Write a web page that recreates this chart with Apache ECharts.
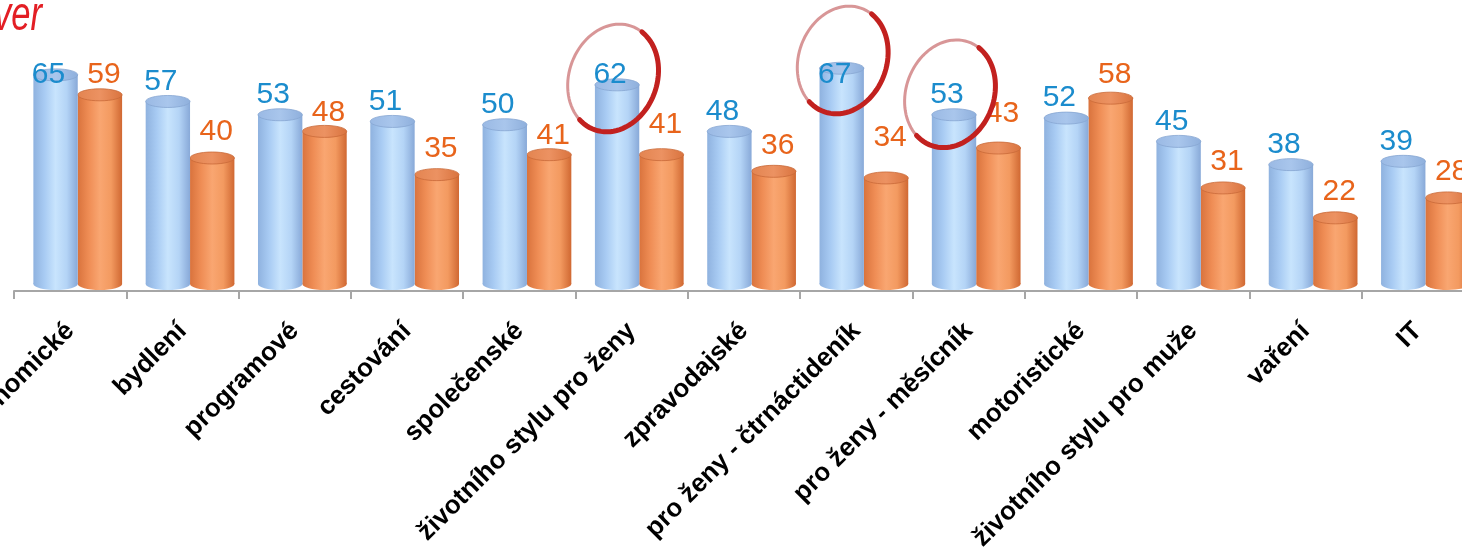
<!DOCTYPE html>
<html>
<head>
<meta charset="utf-8">
<script src="https://cdn.jsdelivr.net/npm/echarts@6/dist/echarts.min.js"></script>
<style>
  html, body { margin: 0; padding: 0; background: #fff; }
  #chart { width: 1462px; height: 553px; }
</style>
</head>
<body>
<div id="chart"></div>
<script>
const categories = [
  'ekonomické', 'bydlení', 'programové', 'cestování', 'společenské',
  'životního stylu pro ženy', 'zpravodajské', 'pro ženy - čtrnáctideník',
  'pro ženy - měsícník', 'motoristické', 'životního stylu pro muže', 'vaření', 'IT'
];
const blueValues = [65, 57, 53, 51, 50, 62, 48, 67, 53, 52, 45, 38, 39];
const orangeValues = [59, 40, 48, 35, 41, 41, 36, 34, 43, 58, 31, 22, 28];
const circled = ['životního stylu pro ženy', 'pro ženy - čtrnáctideník', 'pro ženy - měsícník'];

// hand-drawn rings, offsets relative to the value label
const ringShapes = {
  'životního stylu pro ženy': { dx: 3, dy: 3 },
  'pro ženy - čtrnáctideník': { dx: 8, dy: -15 },
  'pro ženy - měsícník': { dx: 3, dy: -1 }
};
// labels that were dragged a bit in the original (px, positive = higher)
const orangeLabelNudge = {
  'programové': -7, 'společenské': -7, 'životního stylu pro ženy': 4,
  'pro ženy - čtrnáctideník': 14, 'pro ženy - měsícník': 8
};

const chart = echarts.init(document.getElementById('chart'), null, { renderer: 'canvas' });

function gradient(stops) {
  return new echarts.graphic.LinearGradient(0, 0, 1, 0,
    stops.map((c, i) => ({ offset: i / (stops.length - 1), color: c })));
}

function ringPoints(cx, cy, rx, ry, rot, t0, t1) {
  const pts = [];
  const c = Math.cos(rot), s = Math.sin(rot);
  for (let t = t0; t <= t1; t += 4) {
    const a = t * Math.PI / 180;
    const x = rx * Math.cos(a), y = ry * Math.sin(a);
    pts.push([cx + x * c - y * s, cy + x * s + y * c]);
  }
  return pts;
}

function cylinder(opts) {
  return function (params, api) {
    const band = api.size([1, 0])[0];
    const p = api.coord([api.value(0), api.value(1)]);
    const base = api.coord([api.value(0), 0]);
    const w = band * 0.395;
    const cx = p[0] + band * opts.offset;
    const ry = 6;
    const topY = p[1];
    const botY = base[1] - ry - 1;
    const bodyFill = gradient(opts.body);
    const name = categories[api.value(0)];
    const children = [
      { type: 'rect', shape: { x: cx - w / 2, y: topY, width: w, height: botY - topY }, style: { fill: bodyFill } },
      { type: 'ellipse', shape: { cx: cx, cy: botY, rx: w / 2, ry: ry }, style: { fill: bodyFill } },
      { type: 'ellipse', shape: { cx: cx, cy: topY, rx: w / 2, ry: ry },
        style: { fill: gradient(opts.top), stroke: opts.rim, lineWidth: 0.8 } }
    ];
    const nudge = (opts.nudge && opts.nudge[name]) || 0;
    const lx = cx + opts.labelDx;
    const ly = Math.max(topY - opts.labelDy - nudge, 75);
    children.push({
      type: 'text', z2: 10,
      style: {
        text: String(api.value(1)), x: lx, y: ly, align: 'center', verticalAlign: 'middle',
        fontSize: 30, fontFamily: 'Liberation Sans, Arial, sans-serif', fill: opts.labelColor
      }
    });
    if (opts.rings && circled.indexOf(name) >= 0) {
      const r = ringShapes[name];
      const rcx = lx + r.dx, rcy = ly + r.dy;
      const rot = 20 * Math.PI / 180;
      children.push({
        type: 'polyline', z2: 20,
        shape: { points: ringPoints(rcx, rcy, 44, 55, rot, -155, 205) },
        style: { stroke: 'rgba(190,80,82,0.6)', lineWidth: 3, fill: null }
      });
      children.push({
        type: 'polyline', z2: 21,
        shape: { points: ringPoints(rcx, rcy, 44, 55, rot, -75, 115) },
        style: { stroke: '#c2211f', lineWidth: 5, fill: null, lineCap: 'round' }
      });
    }
    return { type: 'group', children: children };
  };
}

const option = {
  animation: false,
  grid: { left: 14, right: -12, top: 25, bottom: 262, outerBoundsMode: 'none', containLabel: false },
  graphic: [{
    type: 'text', x: 42, y: 17, scaleX: 0.72,
    style: {
      text: 'ver', align: 'right', verticalAlign: 'middle',
      font: 'italic 48px "Liberation Sans", Arial, sans-serif',
      fill: '#e31e24'
    }
  }],
  xAxis: {
    type: 'category',
    data: categories,
    axisLine: { show: true, lineStyle: { color: '#a6a6a6', width: 2 } },
    axisTick: { show: true, length: 8, lineStyle: { color: '#a6a6a6', width: 2 } },
    axisLabel: {
      interval: 0, rotate: 45, margin: 36,
      fontSize: 26, fontWeight: 'bold', color: '#000',
      fontFamily: 'Liberation Sans, Arial, sans-serif'
    },
    splitLine: { show: false }
  },
  yAxis: { type: 'value', min: 0, max: 80, show: false, splitLine: { show: false } },
  series: [
    {
      type: 'custom', z: 2,
      data: orangeValues.map((v, i) => [i, v]),
      encode: { x: 0, y: 1 },
      renderItem: cylinder({
        offset: 0.265,
        body: ['#d9733d', '#ef8d55', '#f9a671', '#f39a60', '#d06832'],
        top: ['#e38450', '#ec9262', '#d9733e'],
        rim: '#c96a38',
        labelColor: '#e8641b', labelDx: 4, labelDy: 26,
        nudge: orangeLabelNudge
      })
    },
    {
      type: 'custom', z: 3,
      data: blueValues.map((v, i) => [i, v]),
      encode: { x: 0, y: 1 },
      renderItem: cylinder({
        offset: -0.13,
        body: ['#8fb2df', '#a8cbf3', '#c8e4fd', '#b4d4f6', '#88a9d8'],
        top: ['#9ab9e4', '#a9c6ec', '#8eafdc'],
        rim: '#86a6d2',
        labelColor: '#1b8ccd', labelDx: -7, labelDy: 20,
        rings: true
      })
    }
  ]
};

chart.setOption(option);
</script>
</body>
</html>
